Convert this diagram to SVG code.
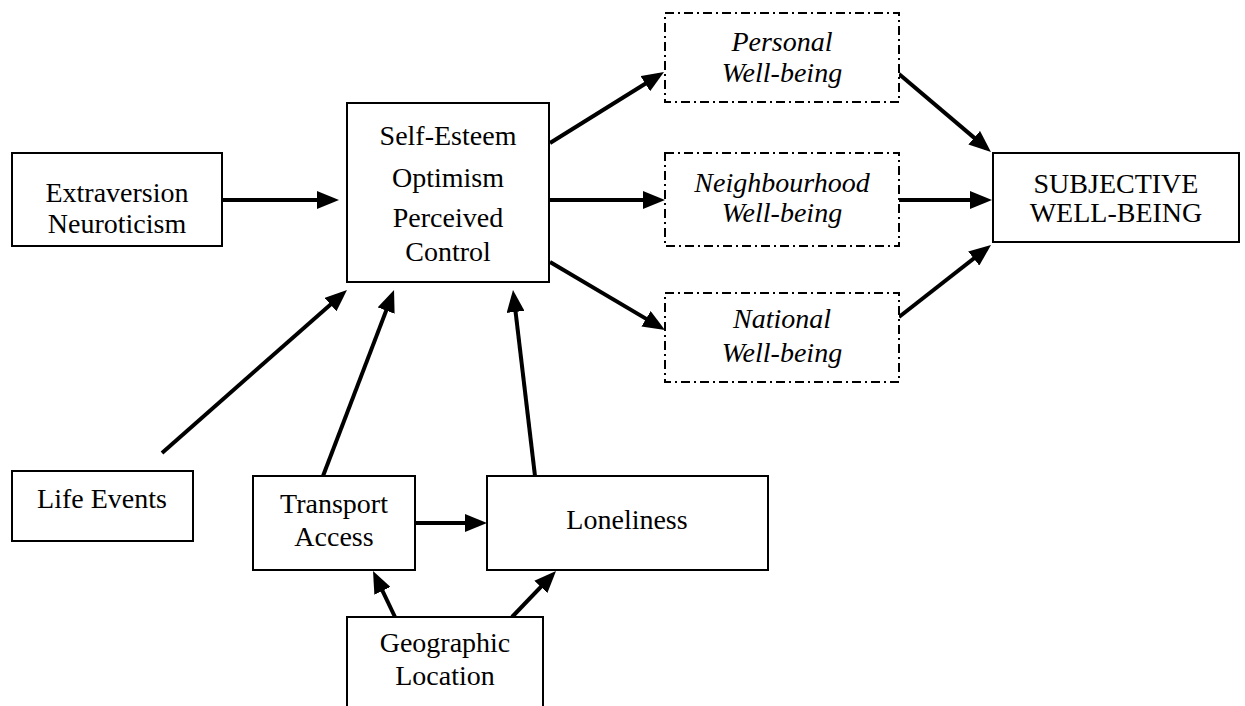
<svg xmlns="http://www.w3.org/2000/svg" width="1245" height="706" viewBox="0 0 1245 706">
<style>
.box{fill:#fff;stroke:#000;stroke-width:2}
.dbox{fill:#fff;stroke:#000;stroke-width:2;stroke-dasharray:9,4,2,4}
.t{font-family:"Liberation Serif","Times New Roman",serif;font-size:28px;fill:#000;text-anchor:middle}
.i{font-style:italic}
.c{stroke:#000;stroke-width:4;fill:none;marker-end:url(#ah)}
</style>
<defs>
<marker id="ah" markerUnits="userSpaceOnUse" markerWidth="22" markerHeight="18" refX="16" refY="9" orient="auto" viewBox="0 0 22 18">
<path d="M0,0 L22,9 L0,18 z" fill="#000"/>
</marker>
</defs>
<rect width="1245" height="706" fill="#fff"/>
<g id="connectors">
<line class="c" x1="222" y1="200" x2="333" y2="200"/>
<line class="c" x1="550" y1="143" x2="658.9" y2="75.2"/>
<line class="c" x1="550" y1="200" x2="659" y2="200"/>
<line class="c" x1="550" y1="262" x2="659.8" y2="326.9"/>
<line class="c" x1="899" y1="74" x2="986.4" y2="148.1"/>
<line class="c" x1="899" y1="200" x2="986" y2="200"/>
<line class="c" x1="899" y1="317" x2="986.3" y2="248.7"/>
<line class="c" x1="162" y1="453" x2="342.5" y2="294"/>
<line class="c" x1="323" y1="476" x2="391.9" y2="295.6"/>
<line class="c" x1="535" y1="476" x2="513.7" y2="296"/>
<line class="c" x1="395" y1="617" x2="375.6" y2="576.4"/>
<line class="c" x1="512" y1="617" x2="551.9" y2="575.3"/>
<line class="c" x1="415" y1="523" x2="481" y2="523"/>
</g>
<g id="extraversion">
<rect class="box" x="12" y="153" width="210" height="93"/>
<text class="t" x="117" y="202">Extraversion</text>
<text class="t" x="117" y="233">Neuroticism</text>
</g>
<g id="self-esteem">
<rect class="box" x="347" y="103" width="202" height="179"/>
<text class="t" x="448" y="145">Self-Esteem</text>
<text class="t" x="448" y="187">Optimism</text>
<text class="t" x="448" y="227">Perceived</text>
<text class="t" x="448" y="261">Control</text>
</g>
<g id="personal">
<rect class="dbox" x="665" y="13" width="234" height="89"/>
<text class="t i" x="782" y="51">Personal</text>
<text class="t i" x="782" y="82">Well-being</text>
</g>
<g id="neighbourhood">
<rect class="dbox" x="665" y="153" width="234" height="93"/>
<text class="t i" x="782" y="192">Neighbourhood</text>
<text class="t i" x="782" y="222">Well-being</text>
</g>
<g id="national">
<rect class="dbox" x="665" y="293" width="234" height="89"/>
<text class="t i" x="782" y="328">National</text>
<text class="t i" x="782" y="362">Well-being</text>
</g>
<g id="subjective">
<rect class="box" x="993" y="153" width="246" height="89"/>
<text class="t" x="1116" y="193">SUBJECTIVE</text>
<text class="t" x="1116" y="222">WELL-BEING</text>
</g>
<g id="life-events">
<rect class="box" x="12" y="471" width="181" height="70"/>
<text class="t" x="102" y="508">Life Events</text>
</g>
<g id="transport">
<rect class="box" x="253" y="476" width="162" height="94"/>
<text class="t" x="334" y="513">Transport</text>
<text class="t" x="334" y="546">Access</text>
</g>
<g id="loneliness">
<rect class="box" x="487" y="476" width="281" height="94"/>
<text class="t" x="627" y="529">Loneliness</text>
</g>
<g id="geographic">
<rect class="box" x="347" y="617" width="196" height="120"/>
<text class="t" x="445" y="652">Geographic</text>
<text class="t" x="445" y="685">Location</text>
</g>
</svg>
